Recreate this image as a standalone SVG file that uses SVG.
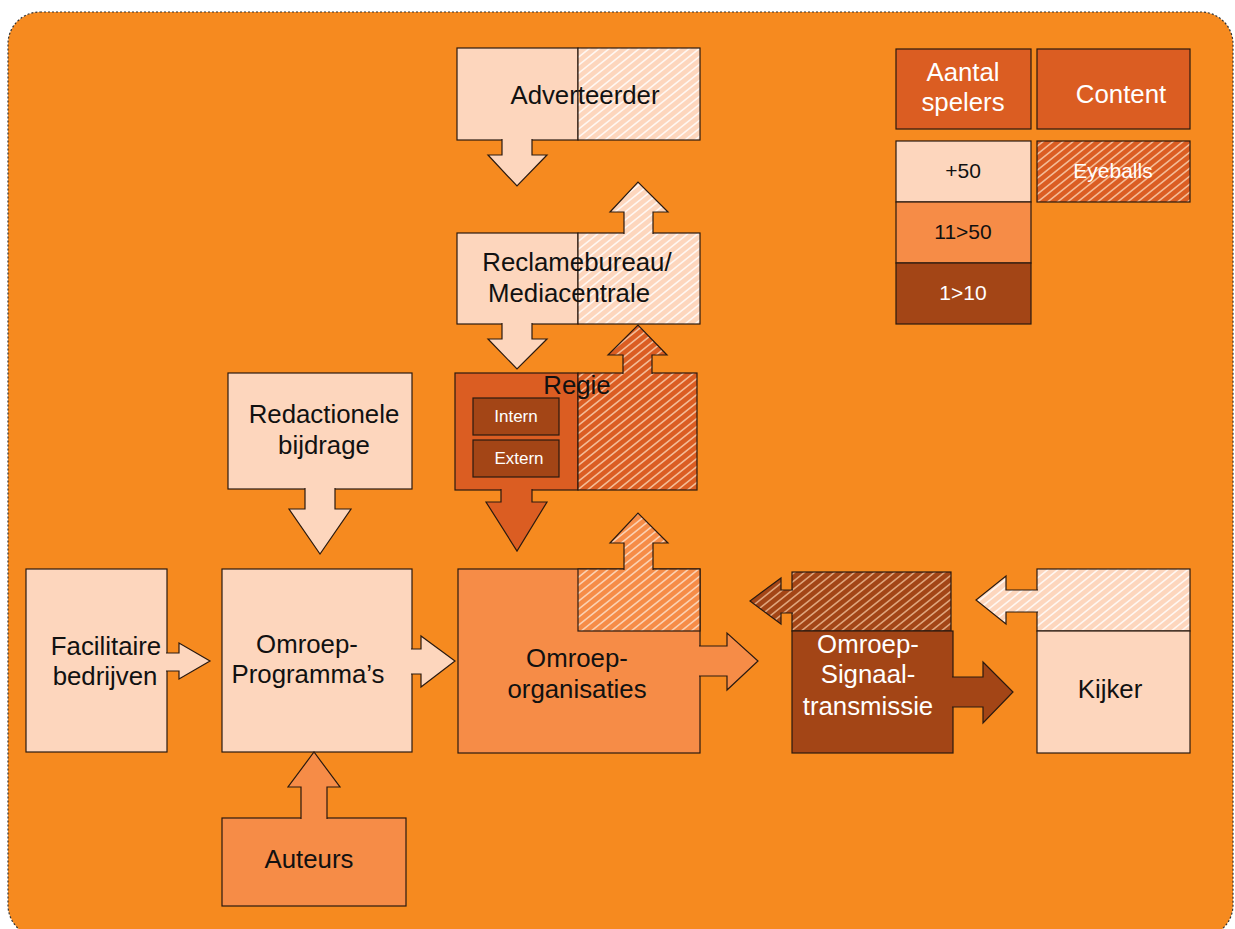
<svg xmlns="http://www.w3.org/2000/svg" width="1235" height="929" viewBox="0 0 1235 929">
<defs>
<style>
.bx{stroke:#2a1a10;stroke-width:1.2}
.ar{stroke:#2a1a10;stroke-width:1.2;stroke-linejoin:miter}
.pe{fill:#FDD6BD}
.md{fill:#F68C47}
.dk{fill:#DB5D22}
.br{fill:#A34516}
.hpe{fill:url(#hPe)}
.hmd{fill:url(#hMd)}
.hdk{fill:url(#hDk)}
.hbr{fill:url(#hBr)}
text{font-family:"Liberation Sans",Arial,sans-serif;font-size:25.8px;text-anchor:middle;fill:#111}
.w{fill:#fff}
.sm{font-size:17px}
.lg{font-size:21px}
</style>
<pattern id="hPe" patternUnits="userSpaceOnUse" width="10" height="8">
<rect width="10" height="8" fill="#FDD6BD"/>
<path d="M-1,8.8 L11,-0.8 M-1,0.8 L1,-0.8 M9,8.8 L11,7.2" stroke="#fff" stroke-opacity="0.8" stroke-width="1.6"/>
</pattern>
<pattern id="hMd" patternUnits="userSpaceOnUse" width="10" height="8">
<rect width="10" height="8" fill="#F68C47"/>
<path d="M-1,8.8 L11,-0.8 M-1,0.8 L1,-0.8 M9,8.8 L11,7.2" stroke="#FCD9BE" stroke-opacity="0.9" stroke-width="1.6"/>
</pattern>
<pattern id="hDk" patternUnits="userSpaceOnUse" width="10" height="8">
<rect width="10" height="8" fill="#DB5D22"/>
<path d="M-1,8.8 L11,-0.8 M-1,0.8 L1,-0.8 M9,8.8 L11,7.2" stroke="#F7C6A2" stroke-opacity="0.9" stroke-width="1.6"/>
</pattern>
<pattern id="hBr" patternUnits="userSpaceOnUse" width="10" height="8">
<rect width="10" height="8" fill="#A34516"/>
<path d="M-1,8.8 L11,-0.8 M-1,0.8 L1,-0.8 M9,8.8 L11,7.2" stroke="#E6B088" stroke-opacity="0.9" stroke-width="1.6"/>
</pattern>
</defs>

<rect id="background" x="8" y="12" width="1225" height="925" rx="32" ry="32" fill="#F68A1F" stroke="#333" stroke-width="1.2" stroke-dasharray="2,2"/>

<g id="adverteerder">
<rect class="bx pe" x="457" y="48" width="121" height="92"/>
<rect class="bx hpe" x="578" y="48" width="122" height="92" stroke="#666"/>
<text x="585" y="104">Adverteerder</text>
</g>

<g id="reclamebureau">
<rect class="bx pe" x="457" y="233" width="121" height="91"/>
<rect class="bx hpe" x="578" y="233" width="122" height="91"/>
<text x="577" y="271">Reclamebureau/</text>
<text x="569" y="302">Mediacentrale</text>
</g>

<g id="regie">
<rect class="bx dk" x="455" y="373" width="123" height="117"/>
<rect class="bx hdk" x="578" y="373" width="119" height="117"/>
<text x="577" y="394">Regie</text>
<rect class="bx br" x="473" y="398" width="86" height="37"/>
<text class="w sm" x="516" y="422">Intern</text>
<rect class="bx br" x="473" y="440" width="86" height="37"/>
<text class="w sm" x="519" y="464">Extern</text>
</g>

<g id="redactionele">
<rect class="bx pe" x="228" y="373" width="184" height="116"/>
<text x="324" y="423">Redactionele</text>
<text x="324" y="454">bijdrage</text>
</g>

<g id="facilitaire">
<rect class="bx pe" x="26" y="569" width="141" height="183"/>
<text x="106" y="655">Facilitaire</text>
<text x="105" y="685">bedrijven</text>
</g>

<g id="omroep-programmas">
<rect class="bx pe" x="222" y="569" width="190" height="183"/>
<text x="307" y="653">Omroep-</text>
<text x="308" y="683">Programma’s</text>
</g>

<g id="omroep-organisaties">
<rect class="bx md" x="458" y="569" width="242" height="184"/>
<rect class="bx hmd" x="578" y="569" width="122" height="62"/>
<text x="577" y="667">Omroep-</text>
<text x="577" y="698">organisaties</text>
</g>

<g id="auteurs">
<rect class="bx md" x="222" y="818" width="184" height="88"/>
<text x="309" y="868">Auteurs</text>
</g>

<g id="signaaltransmissie">
<rect class="bx hbr" x="792" y="572" width="159" height="59"/>
<rect class="bx br" x="792" y="631" width="161" height="122"/>
<text class="w" x="868" y="653">Omroep-</text>
<text class="w" x="868" y="683">Signaal-</text>
<text class="w" x="868" y="715">transmissie</text>
</g>

<g id="kijker">
<rect class="bx hpe" x="1037" y="569" width="153" height="62"/>
<rect class="bx pe" x="1037" y="631" width="153" height="122"/>
<text x="1110" y="698">Kijker</text>
</g>

<g id="legend">
<rect class="bx dk" x="896" y="49" width="135" height="80"/>
<text class="w" x="963" y="81">Aantal</text>
<text class="w" x="963" y="111">spelers</text>
<rect class="bx dk" x="1037" y="49" width="153" height="80"/>
<text class="w" x="1121" y="103">Content</text>
<rect class="bx pe" x="896" y="141" width="135" height="61"/>
<text class="lg" x="963" y="178">+50</text>
<rect class="bx md" x="896" y="202" width="135" height="61"/>
<text class="lg" x="963" y="239">11&gt;50</text>
<rect class="bx br" x="896" y="263" width="135" height="61"/>
<text class="lg w" x="963" y="300">1&gt;10</text>
<rect class="bx hdk" x="1037" y="141" width="153" height="61"/>
<text class="lg w" x="1113" y="178">Eyeballs</text>
</g>

<g id="connectors">
<path class="ar pe" d="M502,139 L502,155 L488,155 L517,186 L547,155 L532,155 L532,139"/>
<path class="ar hpe" d="M624,234 L624,212 L610,212 L638,182 L668,212 L653,212 L653,234"/>
<path class="ar pe" d="M502,323 L502,339 L488,339 L517,369 L547,339 L532,339 L532,323"/>
<path class="ar hdk" d="M623,374 L623,355 L608,355 L638,325 L667,355 L652,355 L652,374"/>
<path class="ar dk" d="M501,489 L501,502 L486,502 L517,551 L547,502 L532,502 L532,489"/>
<path class="ar hmd" d="M624,570 L624,543 L610,543 L638,513 L668,543 L653,543 L653,570"/>
<path class="ar md" d="M699,646 L727,646 L727,633 L758,661 L727,690 L727,676 L699,676"/>
<path class="ar pe" d="M305,488 L305,509 L289,509 L320,554 L351,509 L335,509 L335,488"/>
<path class="ar pe" d="M411,649 L421,649 L421,636 L455,661 L421,687 L421,674 L411,674"/>
<path class="ar pe" d="M166,653 L179,653 L179,643 L210,661 L179,679 L179,671 L166,671"/>
<path class="ar md" d="M301,819 L301,787 L288,787 L314,752 L340,787 L327,787 L327,819"/>
<path class="ar hbr" d="M793,590 L781,590 L781,578 L750,601 L781,624 L781,613 L793,613"/>
<path class="ar br" d="M952,677 L983,677 L983,662 L1013,692 L983,723 L983,707 L952,707"/>
<path class="ar hpe" d="M1038,590 L1006,590 L1006,576 L976,600 L1006,624 L1006,612 L1038,612"/>
</g>
</svg>
